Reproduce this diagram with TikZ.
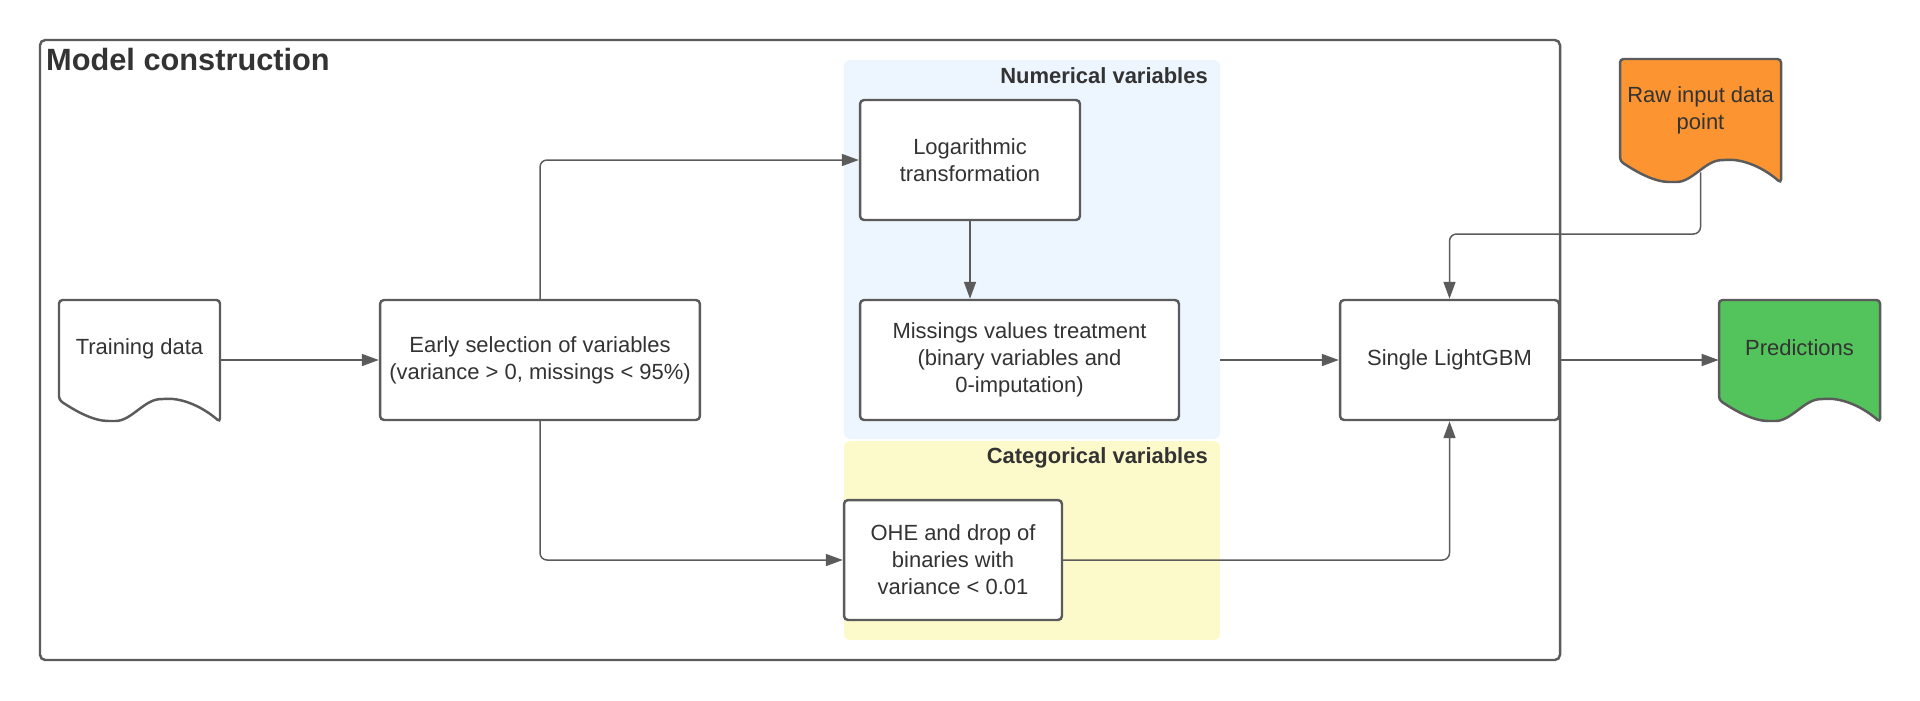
\documentclass[tikz,border=0pt]{standalone}
\usepackage{fontspec}
\setmainfont{Liberation Sans}
\usetikzlibrary{arrows.meta,calc}

\definecolor{linegray}{HTML}{5B5B5B}
\definecolor{textgray}{HTML}{333333}
\definecolor{numblue}{HTML}{EDF5FF}
\definecolor{catyellow}{HTML}{FCFACA}
\definecolor{raworange}{HTML}{FC9432}
\definecolor{predgreen}{HTML}{53C35B}

\tikzset{
  box/.style={draw=linegray,line width=1.4pt,rounded corners=2.3pt,fill=white,align=center,
    minimum height=2.4cm,inner sep=2pt,text=textgray},
  doctext/.style={align=center,minimum width=3.22cm,minimum height=2cm,inner sep=0pt,text=textgray},
  docline/.style={draw=linegray,line width=1.4pt,rounded corners=2pt},
  region/.style={rounded corners=3pt,minimum width=7.52cm,inner sep=0pt},
  grouplabel/.style={font=\fontsize{12.5}{15}\selectfont\bfseries,anchor=base east,text=textgray},
  arr/.style={draw=linegray,line width=0.85pt,rounded corners=4pt,-{Triangle[length=0.34cm,width=0.24cm]}},
}

% document symbol: north west corner, fill, depth of the wave start
\newcommand{\docshape}[3]{%
  \draw[docline,fill=#2,shift={#1}] (80,0) -- (161,0) -- (161,#3+22)
    .. controls (145,#3+8) and (125,#3-2) .. (104,#3-1)
    .. controls (85,#3) and (72,#3+21) .. (53,#3+21)
    .. controls (35,#3+21) and (18,#3+12) .. (0,#3) -- (0,0) -- cycle;}

\begin{document}
\begin{tikzpicture}[x=0.02cm,y=-0.02cm,font=\fontsize{12.5}{15.3}\selectfont]
  \useasboundingbox (0,0) rectangle (1920,700);

  % frame and groups
  \draw[draw=linegray,line width=1.4pt,rounded corners=3pt] (40,40) rectangle (1560,660);
  \node[anchor=base west,font=\fontsize{17.5}{20}\selectfont\bfseries,text=textgray] (title) at (40,70) {Model construction};
  \node[region,fill=numblue,minimum height=7.58cm] (numreg) at (1032,249.5) {};
  \node[region,fill=catyellow,minimum height=3.98cm] (catreg) at (1032,540.5) {};
  \node[grouplabel] (numlabel) at (1214,83) {Numerical variables};
  \node[grouplabel] (catlabel) at (1214,463) {Categorical variables};

  % steps
  \node[box,minimum width=6.4cm] (early) at (540,360) {Early selection of variables\\(variance > 0, missings < 95\%)};
  \node[box,minimum width=4.4cm] (log) at (970,160) {Logarithmic\\transformation};
  \node[box,minimum width=6.38cm] (miss) at (1019.5,360) {Missings values treatment\\(binary variables and\\0-imputation)};
  \node[box,minimum width=4.36cm] (ohe) at (953,560) {OHE and drop of\\binaries with\\variance < 0.01};
  \node[box,minimum width=4.38cm] (gbm) at (1449.5,360) {Single LightGBM};

  % documents
  \docshape{(59,300)}{white}{100}
  \node[doctext] (train) at (139.5,349) {Training data};
  \docshape{(1620,59)}{raworange}{102}
  \node[doctext,minimum height=2.04cm] (raw) at (1700.5,110) {Raw input data\\point};
  \docshape{(1719,300)}{predgreen}{100}
  \node[doctext] (pred) at (1799.5,348) {Predictions};

  % connectors
  \coordinate (rawtail) at ($(raw.south)+(0,11)$);
  \coordinate (rawbend) at (gbm.north |- 0,234);
  \draw[arr] (train.east |- early.west) -- (early.west);
  \draw[arr] (early.north) |- (log.west);
  \draw[arr] (early.south) |- (ohe.west);
  \draw[arr] (log.south) -- (log.south |- miss.north);
  \draw[arr] (numreg.east |- gbm.west) -- (gbm.west);
  \draw[arr] (ohe.east) -| (gbm.south);
  \draw[arr] (rawtail) |- (rawbend) -- (gbm.north);
  \draw[arr] (gbm.east) -- (gbm.east -| pred.west);
\end{tikzpicture}
\end{document}
